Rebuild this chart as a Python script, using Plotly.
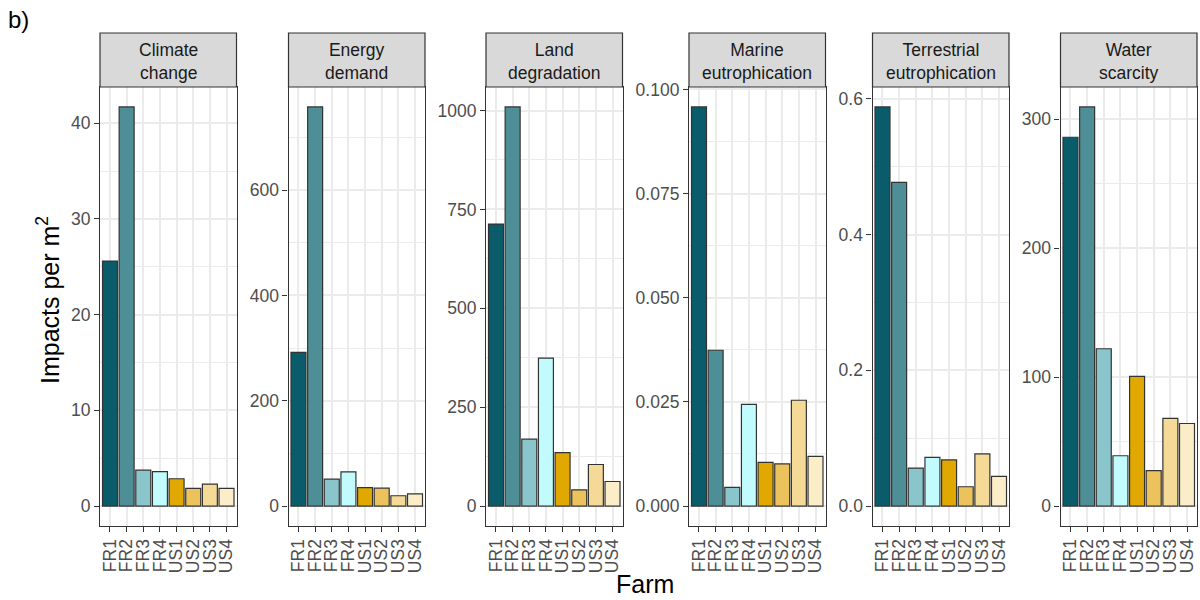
import plotly.graph_objects as go

farms = ["FR1", "FR2", "FR3", "FR4", "US1", "US2", "US3", "US4"]
farm_colors = ["#0B5C6B", "#4E8F97", "#8AC5CB", "#C2FBFD",
               "#E0A800", "#EBC25C", "#F5D996", "#FCEDC9"]

panel_titles = ["Climate<br>change", "Energy<br>demand", "Land<br>degradation",
                "Marine<br>eutrophication", "Terrestrial<br>eutrophication", "Water<br>scarcity"]

climate_change = [25.6, 41.7, 3.75, 3.6, 2.85, 1.85, 2.3, 1.85]
energy_demand = [292, 758, 51, 65, 35, 34, 19.6, 23]
land_degradation = [713, 1009, 169, 374, 135, 41, 105, 62]
marine_eutrophication = [0.0958, 0.0374, 0.0045, 0.0244, 0.0105, 0.0101, 0.0254, 0.0119]
terrestrial_eutrophication = [0.588, 0.477, 0.056, 0.0716, 0.068, 0.0284, 0.077, 0.0437]
water_scarcity = [286, 309.5, 122, 39, 100.5, 27.4, 68, 64]

series = [climate_change, energy_demand, land_degradation,
          marine_eutrophication, terrestrial_eutrophication, water_scarcity]
major_dticks = [10, 200, 250, 0.025, 0.2, 100]
tick_formats = ["", "", "", ".3f", ".1f", ""]

W, H = 1200, 600
panel_lefts = [100, 288.5, 486, 689, 872.5, 1060.5]
panel_w = 136.5
plot_top, plot_bottom = 87, 526
strip_top = 33

FONT = "Liberation Sans, Arial, sans-serif"
GRID = "#EBEBEB"
DARK = "#333333"
TICK_SIZE = 17.5

fig = go.Figure()
layout = dict(
    width=W, height=H,
    margin=dict(l=0, r=0, t=0, b=0),
    paper_bgcolor="white", plot_bgcolor="white",
    showlegend=False, bargap=0.1,
    font=dict(family=FONT, color="#4D4D4D", size=16),
)
shapes = []
annotations = []

for i, vals in enumerate(series):
    n = i + 1
    xa = "x" if n == 1 else f"x{n}"
    ya = "y" if n == 1 else f"y{n}"
    fig.add_trace(go.Bar(
        x=farms, y=vals, xaxis=xa, yaxis=ya,
        marker=dict(color=farm_colors, line=dict(color="#333333", width=1.2)),
        width=0.9,
    ))
    x0 = panel_lefts[i] / W
    x1 = (panel_lefts[i] + panel_w) / W
    y0 = 1 - plot_bottom / H
    y1 = 1 - plot_top / H
    vmax = max(vals)
    layout["xaxis" + ("" if n == 1 else str(n))] = dict(
        domain=[x0, x1], anchor=ya, type="category",
        categoryorder="array", categoryarray=farms,
        tickmode="array", tickvals=farms, ticktext=farms,
        range=[-0.6, 7.6], showgrid=True, gridcolor=GRID, gridwidth=1.5,
        showline=True, mirror=True, linecolor=DARK, linewidth=1.2,
        ticks="outside", ticklen=5, tickwidth=1.2, tickcolor=DARK,
        tickangle=-90, tickfont=dict(size=TICK_SIZE, color="#4D4D4D", family=FONT),
        automargin=False, zeroline=False, fixedrange=True,
    )
    layout["yaxis" + ("" if n == 1 else str(n))] = dict(
        domain=[y0, y1], anchor=xa,
        range=[-0.05 * vmax, 1.05 * vmax],
        tickmode="linear", tick0=0, dtick=major_dticks[i],
        tickformat=tick_formats[i],
        showgrid=True, gridcolor=GRID, gridwidth=1.5,
        minor=dict(tick0=0, dtick=major_dticks[i] / 2, showgrid=True,
                   gridcolor=GRID, gridwidth=0.8),
        showline=True, mirror=True, linecolor=DARK, linewidth=1.2,
        ticks="outside", ticklen=5, tickwidth=1.2, tickcolor=DARK,
        tickfont=dict(size=TICK_SIZE, color="#4D4D4D", family=FONT),
        automargin=False, zeroline=False, fixedrange=True,
    )
    # strip
    shapes.append(dict(type="rect", xref="paper", yref="paper",
                       x0=x0, x1=x1, y0=y1, y1=1 - strip_top / H,
                       fillcolor="#D9D9D9", line=dict(color=DARK, width=1.2),
                       layer="above"))
    annotations.append(dict(xref="paper", yref="paper",
                            x=(x0 + x1) / 2, y=1 - (strip_top + plot_top + 2) / 2 / H,
                            text=panel_titles[i], showarrow=False,
                            font=dict(size=TICK_SIZE, color="#1A1A1A", family=FONT),
                            xanchor="center", yanchor="middle"))

annotations.append(dict(xref="paper", yref="paper", x=645 / W, y=1 - 584 / H,
                        text="Farm", showarrow=False,
                        font=dict(size=25, color="black", family=FONT),
                        xanchor="center", yanchor="middle"))
annotations.append(dict(xref="paper", yref="paper", x=48 / W, y=1 - 300 / H,
                        text="Impacts per m<sup>2</sup>", showarrow=False, textangle=-90,
                        font=dict(size=25, color="black", family=FONT),
                        xanchor="center", yanchor="middle"))
annotations.append(dict(xref="paper", yref="paper", x=6 / W, y=1 - 20 / H,
                        text="b)", showarrow=False,
                        font=dict(size=24, color="black", family=FONT),
                        xanchor="left", yanchor="middle"))

layout["shapes"] = shapes
layout["annotations"] = annotations
fig.update_layout(**layout)
fig.write_html("out.html", config={"displayModeBar": False},
               post_script="document.body.style.margin='0';document.body.style.overflow='hidden';")
